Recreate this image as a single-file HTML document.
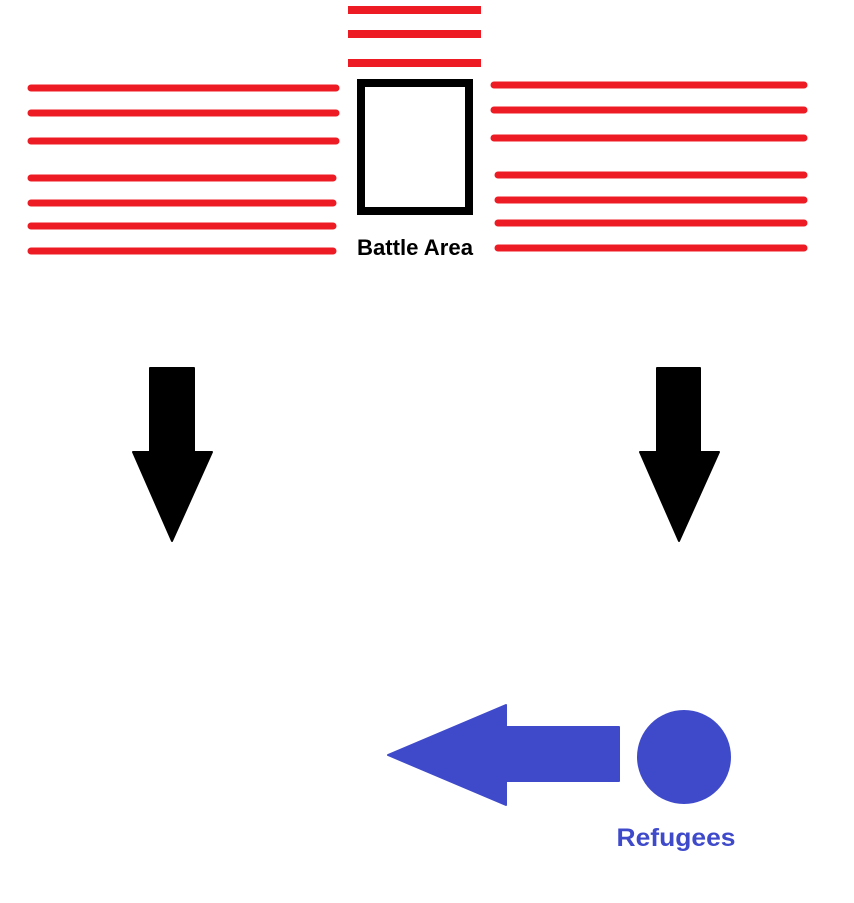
<!DOCTYPE html>
<html><head><style>html,body{margin:0;padding:0;background:#fff;}</style></head>
<body>
<svg width="854" height="898" viewBox="0 0 854 898" xmlns="http://www.w3.org/2000/svg">
<g stroke="#ed1c24" stroke-width="8">
<line x1="348" y1="10" x2="481" y2="10"/>
<line x1="348" y1="34" x2="481" y2="34"/>
<line x1="348" y1="63" x2="481" y2="63"/>
</g>
<g stroke="#ed1c24" stroke-width="7" stroke-linecap="round">
<line x1="31" y1="88" x2="336" y2="88"/>
<line x1="31" y1="113" x2="336" y2="113"/>
<line x1="31" y1="141" x2="336" y2="141"/>
<line x1="31" y1="178" x2="333" y2="178"/>
<line x1="31" y1="203" x2="333" y2="203"/>
<line x1="31" y1="226" x2="333" y2="226"/>
<line x1="31" y1="251" x2="333" y2="251"/>
<line x1="494" y1="85" x2="804" y2="85"/>
<line x1="494" y1="110" x2="804" y2="110"/>
<line x1="494" y1="138" x2="804" y2="138"/>
<line x1="498" y1="175" x2="804" y2="175"/>
<line x1="498" y1="200" x2="804" y2="200"/>
<line x1="498" y1="223" x2="804" y2="223"/>
<line x1="498" y1="248" x2="804" y2="248"/>
</g>
<rect x="361" y="83" width="108" height="128" fill="none" stroke="#000" stroke-width="8"/>
<text x="415" y="255" text-anchor="middle" font-family="Liberation Sans, sans-serif" font-weight="bold" font-size="22" fill="#000" textLength="116" lengthAdjust="spacingAndGlyphs">Battle Area</text>
<path d="M150 368 H194 V452 H212 L172 541 L133 452 H150 Z" fill="#000" stroke="#000" stroke-width="2" stroke-linejoin="round"/>
<path d="M657 368 H700 V452 H719 L679 541 L640 452 H657 Z" fill="#000" stroke="#000" stroke-width="2" stroke-linejoin="round"/>
<path d="M388 755 L506 705 V727 H619 V781 H506 V805 Z" fill="#3f4acb" stroke="#3f4acb" stroke-width="2" stroke-linejoin="round"/>
<circle cx="684" cy="757" r="47" fill="#3f4acb"/>
<text x="676" y="846" text-anchor="middle" font-family="Liberation Sans, sans-serif" font-weight="bold" font-size="25" fill="#3f4acb" textLength="119" lengthAdjust="spacingAndGlyphs">Refugees</text>
</svg>
</body></html>
